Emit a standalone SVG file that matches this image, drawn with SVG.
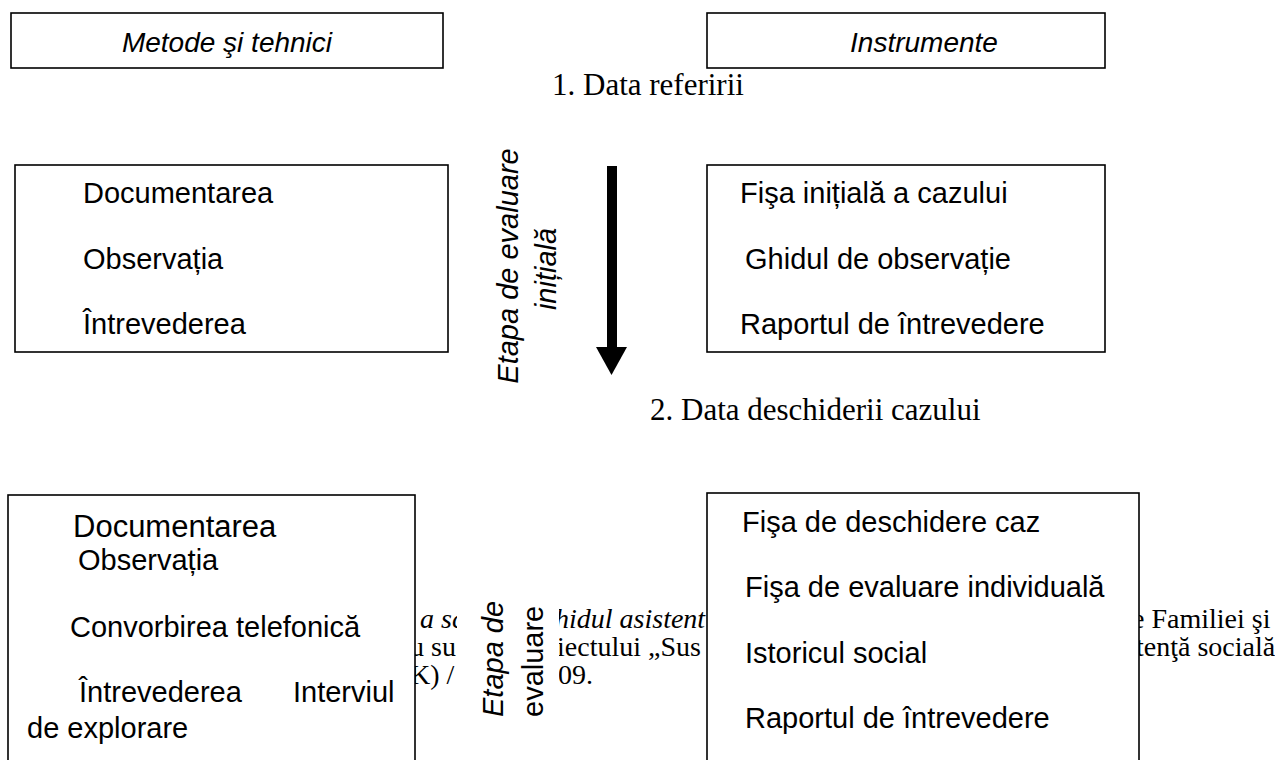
<svg xmlns="http://www.w3.org/2000/svg" width="1275" height="760" viewBox="0 0 1275 760">
  <style>
    .box { fill: #ffffff; stroke: #000000; stroke-width: 1.6; }
    .lbl { font-family: "Liberation Sans", Arial, sans-serif; font-size: 29px; fill: #000000; }
    .hdr { font-family: "Liberation Sans", Arial, sans-serif; font-size: 28px; font-style: italic; fill: #000000; }
    .stage { font-family: "Liberation Sans", Arial, sans-serif; font-size: 29px; font-style: italic; fill: #000000; }
    .stage2 { font-family: "Liberation Sans", Arial, sans-serif; font-size: 29px; fill: #000000; }
    .date { font-family: "Liberation Serif", "Times New Roman", serif; font-size: 31px; fill: #000000; }
    .body { font-family: "Liberation Serif", "Times New Roman", serif; font-size: 28px; fill: #000000; }
    .bodyi { font-family: "Liberation Serif", "Times New Roman", serif; font-size: 28px; font-style: italic; fill: #000000; }
  </style>

  <rect width="1275" height="760" fill="#ffffff"/>

  <!-- paragraph text lying under the lower boxes -->
  <g id="paragraph">
    <text class="bodyi" x="420" y="628">a sc</text>
    <text class="bodyi" x="555" y="628">hidul asistent</text>
    <text class="body" x="1132" y="628">e Familiei şi</text>
    <text class="body" x="410" y="656">u su</text>
    <text class="body" x="557" y="656">iectului „Sus</text>
    <text class="body" x="1136" y="656">tenţă socială</text>
    <text class="body" x="410" y="684">K) /</text>
    <text class="body" x="558" y="684">09.</text>
  </g>

  <!-- column headers -->
  <g id="hdr-methods">
    <rect class="box" x="11" y="13" width="432" height="55"/>
    <text class="hdr" x="227" y="52" text-anchor="middle">Metode şi tehnici</text>
  </g>
  <g id="hdr-tools">
    <rect class="box" x="707" y="13" width="398" height="55"/>
    <text class="hdr" x="924" y="52" text-anchor="middle">Instrumente</text>
  </g>

  <!-- milestones -->
  <g id="date-referral">
    <text class="date" x="552" y="95">1. Data referirii</text>
  </g>
  <g id="date-opening">
    <text class="date" x="650" y="420">2. Data deschiderii cazului</text>
  </g>

  <!-- initial evaluation stage -->
  <g id="methods-initial">
    <rect class="box" x="15" y="165" width="433" height="187"/>
    <text class="lbl" x="83" y="203">Documentarea</text>
    <text class="lbl" x="83" y="269">Observația</text>
    <text class="lbl" x="83" y="334">Întrevederea</text>
  </g>
  <g id="tools-initial">
    <rect class="box" x="707" y="165" width="398" height="187"/>
    <text class="lbl" x="740" y="203">Fişa inițială a cazului</text>
    <text class="lbl" x="745" y="269">Ghidul de observație</text>
    <text class="lbl" x="740" y="334">Raportul de întrevedere</text>
  </g>
  <g id="stage-initial">
    <text class="stage" transform="translate(518 266) rotate(-90)" text-anchor="middle">Etapa de evaluare</text>
    <text class="stage" transform="translate(556 269) rotate(-90)" text-anchor="middle">inițială</text>
  </g>

  <g id="connectors">
    <rect x="607" y="166" width="10" height="182" fill="#000000"/>
    <polygon points="596,347 627,347 611.5,375" fill="#000000"/>
  </g>

  <!-- detailed evaluation stage -->
  <g id="stage-detailed">
    <rect x="457" y="590" width="102" height="132" fill="#ffffff"/>
    <text class="stage" transform="translate(503 717) rotate(-90)">Etapa de</text>
    <text class="stage2" transform="translate(543 717) rotate(-90)">evaluare</text>
  </g>
  <g id="methods-detailed">
    <rect class="box" x="8" y="495" width="407" height="300"/>
    <text class="lbl" x="73" y="537" style="font-size:31px">Documentarea</text>
    <text class="lbl" x="78" y="570">Observația</text>
    <text class="lbl" x="70" y="637">Convorbirea telefonică</text>
    <text class="lbl" x="79" y="702">Întrevederea</text>
    <text class="lbl" x="293" y="702">Interviul</text>
    <text class="lbl" x="27" y="738">de explorare</text>
  </g>
  <g id="tools-detailed">
    <rect class="box" x="707" y="493" width="432" height="300"/>
    <text class="lbl" x="742" y="532">Fişa de deschidere caz</text>
    <text class="lbl" x="745" y="597">Fişa de evaluare individuală</text>
    <text class="lbl" x="745" y="663">Istoricul social</text>
    <text class="lbl" x="745" y="728">Raportul de întrevedere</text>
  </g>
</svg>
